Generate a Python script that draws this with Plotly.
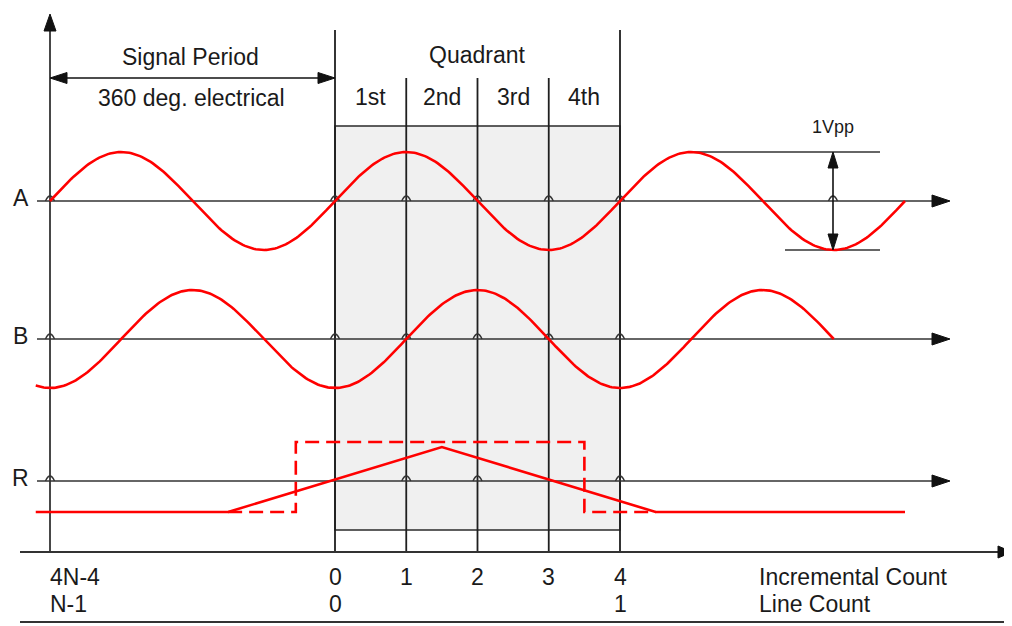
import numpy as np
import plotly.graph_objects as go

# ---------------- data ----------------
count_ticks = [0, 1, 2, 3, 4]
count_labels = ["0", "1", "2", "3", "4"]
line_ticks = [0, 4]
line_labels = ["0", "1"]
period_start = -4            # 4N-4 position (counts)
period_start_labels = ["4N-4", "N-1"]
quadrant_labels = ["1st", "2nd", "3rd", "4th"]
channel_names = ["A", "B", "R"]
axis_titles = ["Incremental Count", "Line Count"]

# sine channels: amplitude in volts (1 Vpp), period in counts, phase offset, span in counts
sig_amplitude = 0.5
sig_period = 4
a_phase, a_span = 0.0, (-4.0, 8.0)
b_phase, b_span = 1.0, (-4.2, 7.0)

# reference pulse R (volts relative to its baseline)
r_solid_x = [-4.2, -1.5, 1.5, 4.5, 8.0]
r_solid_v = [-0.316, -0.316, 0.347, -0.316, -0.316]
r_dash_x = [-1.5, -0.55, -0.55, 3.5, 3.5, 4.5]
r_dash_v = [-0.316, -0.316, 0.398, 0.398, -0.316, -0.316]

# ---------------- layout geometry (diagram units; y is downward) ----------------
W, H = 1012, 626
OFF = 8                            # page body margin
X0PX, PXC = 335.0, 71.25          # pixel of count 0, pixels per count
VSCALE = 98.0                      # diagram units per volt
base = {"A": 201, "B": 339, "R": 481}
bottom_y = 552
RED = "#ff0000"
INK = "#1a1a1a"
LINE = "#333333"
FONT = "Liberation Sans, Arial, sans-serif"
FS = 23


def cx(px):
    return (px - X0PX) / PXC


def vy(ch, v):
    return [base[ch] - VSCALE * t for t in np.atleast_1d(v)]


fig = go.Figure()
shapes = []
ann = []


def seg(x0, y0, x1, y1, color=LINE, width=1.6, layer="below"):
    shapes.append(dict(type="line", xref="x", yref="y", x0=x0, y0=y0, x1=x1, y1=y1,
                       line=dict(color=color, width=width), layer=layer))


def tri(tipx_px, tipy, direction, length=17, half=5.5):
    tx = tipx_px
    if direction == "right":
        pts = [(tx, tipy), (tx - length, tipy - half), (tx - length, tipy + half)]
    elif direction == "left":
        pts = [(tx, tipy), (tx + length, tipy - half), (tx + length, tipy + half)]
    elif direction == "up":
        pts = [(tx, tipy), (tx - half, tipy + length), (tx + half, tipy + length)]
    else:
        pts = [(tx, tipy), (tx - half, tipy - length), (tx + half, tipy - length)]
    path = "M " + " L ".join(f"{cx(p[0]):.5f},{p[1]:.3f}" for p in pts) + " Z"
    shapes.append(dict(type="path", xref="x", yref="y", path=path,
                       fillcolor="#111111", line=dict(color="#111111", width=1), layer="above"))


def bridge(xc, y):
    d = 4.5 / PXC
    path = f"M {xc - d:.5f},{y} Q {xc:.5f},{y - 10} {xc + d:.5f},{y}"
    shapes.append(dict(type="path", xref="x", yref="y", path=path,
                       line=dict(color=LINE, width=1.5), layer="below"))


def text(x, y, s, size=FS, anchor="center"):
    ann.append(dict(x=x, y=y, xref="x", yref="y", text=s, showarrow=False,
                    xanchor=anchor, yanchor="middle",
                    font=dict(family=FONT, size=size, color=INK)))


# shaded quadrant box
shapes.append(dict(type="rect", xref="x", yref="y", x0=count_ticks[0], x1=count_ticks[-1],
                   y0=126, y1=530, fillcolor="#f0f0f0",
                   line=dict(color="#2a2a2a", width=1.6), layer="below"))

# vertical lines at counts
for c in count_ticks:
    top = 30 if c in (count_ticks[0], count_ticks[-1]) else 78
    seg(c, top, c, bottom_y, color="#1f1f1f", width=1.8)

# vertical axis at 4N-4
seg(period_start, bottom_y, period_start, 28, color=LINE, width=1.8)
tri(50, 14, "up", length=17, half=6)

# channel axes
for ch in channel_names:
    y = base[ch]
    seg(cx(37), y, cx(935), y, color=LINE, width=1.5)
    tri(950, y, "right", length=18, half=6)
    text(cx(20.5), y - 3, ch)

# bridges
for c in [period_start] + count_ticks:
    bridge(c, base["A"])
    bridge(c, base["B"])
for c in [period_start, 1, 2, 4]:
    bridge(c, base["R"])
bridge(cx(833), base["A"])

# bottom count axis + lower rule
seg(cx(20), bottom_y, cx(1000), bottom_y, color=LINE, width=1.8)
tri(1012, bottom_y, "right", length=14, half=6)
seg(cx(20), 622, cx(1012), 622, color=LINE, width=1.8)

# signal period double arrow
seg(period_start + 0.1, 78, count_ticks[0] - 0.1, 78, color="#111111", width=1.6)
tri(50, 78, "left", length=17, half=5.5)
tri(335, 78, "right", length=17, half=5.5)
text(cx(190), 57, "Signal Period")
text(cx(191), 98, "360 deg. electrical")

# quadrant labels
text(2, 55, "Quadrant")
for i, q in enumerate(quadrant_labels):
    text(i + 0.5, 97, q)

# 1Vpp marker
vx = cx(833)
top_v = base["A"] - VSCALE * sig_amplitude
bot_v = base["A"] + VSCALE * sig_amplitude
seg(cx(690), top_v, cx(880), top_v, color=LINE, width=1.6)
seg(cx(785), bot_v, cx(880), bot_v, color=LINE, width=1.6)
seg(vx, top_v + 10, vx, bot_v - 10, color="#111111", width=1.6)
tri(833, top_v, "up", length=16, half=5)
tri(833, bot_v, "down", length=16, half=5)
text(vx, 127, "1Vpp", size=18)

# bottom labels
text(period_start - 0.03, 577, period_start_labels[0], anchor="left")
text(period_start - 0.03, 604, period_start_labels[1], anchor="left")
for c, lab in zip(count_ticks, count_labels):
    text(c, 577, lab)
for c, lab in zip(line_ticks, line_labels):
    text(c, 604, lab)
text(cx(757), 577, axis_titles[0], anchor="left")
text(cx(757), 604, axis_titles[1], anchor="left")

# ---------------- signals ----------------
xa = np.linspace(a_span[0], a_span[1], 400)
fig.add_trace(go.Scatter(x=xa, y=vy("A", sig_amplitude * np.sin(2 * np.pi * (xa - a_phase) / sig_period)),
                         mode="lines", line=dict(color=RED, width=2.6), hoverinfo="skip"))
xb = np.linspace(b_span[0], b_span[1], 400)
fig.add_trace(go.Scatter(x=xb, y=vy("B", sig_amplitude * np.sin(2 * np.pi * (xb - b_phase) / sig_period)),
                         mode="lines", line=dict(color=RED, width=2.6), hoverinfo="skip"))
fig.add_trace(go.Scatter(x=r_dash_x, y=vy("R", r_dash_v), mode="lines",
                         line=dict(color=RED, width=2.6, dash="14px,7px"), hoverinfo="skip"))
fig.add_trace(go.Scatter(x=r_solid_x, y=vy("R", r_solid_v), mode="lines",
                         line=dict(color=RED, width=2.6), hoverinfo="skip"))

fig.update_layout(
    width=W - OFF, height=H - OFF, margin=dict(l=0, r=0, t=0, b=0),
    paper_bgcolor="white", plot_bgcolor="white", showlegend=False,
    xaxis=dict(range=[cx(OFF), cx(W)], visible=False, fixedrange=True),
    yaxis=dict(range=[H, OFF], visible=False, fixedrange=True),
    shapes=shapes, annotations=ann,
)
fig.write_html("out.html")
